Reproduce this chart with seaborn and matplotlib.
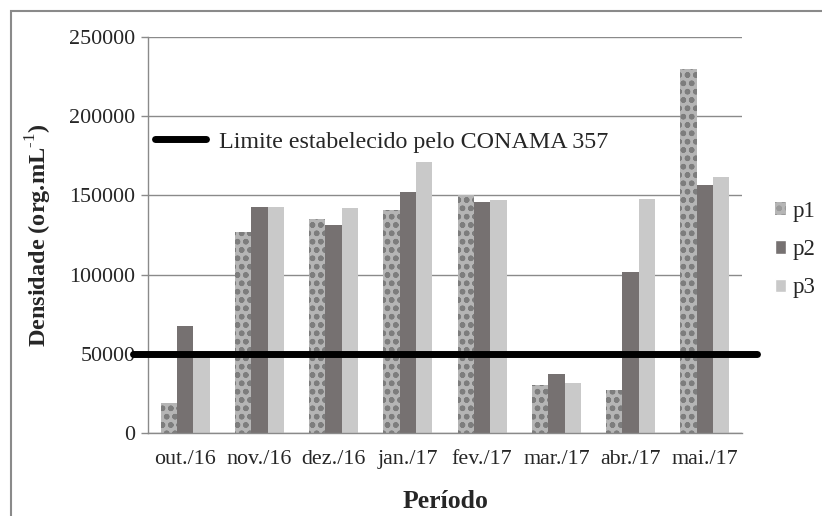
import numpy as np
import pandas as pd
import seaborn as sns
import matplotlib.pyplot as plt
from matplotlib.lines import Line2D
from matplotlib.patches import Rectangle, Patch

periodos = ['out./16', 'nov./16', 'dez./16', 'jan./17', 'fev./17', 'mar./17', 'abr./17', 'mai./17']
p1 = [19000, 127000, 135000, 140500, 150000, 30000, 27000, 230000]
p2 = [67500, 142500, 131000, 152000, 146000, 37000, 101500, 156500]
p3 = [50500, 142500, 142000, 171000, 147000, 31500, 147500, 161500]
pontos = ['p1', 'p2', 'p3']
limite = 50000
limite_label = 'Limite estabelecido pelo CONAMA 357'

df = pd.DataFrame({
    'periodo': periodos * 3,
    'ponto': ['p1'] * 8 + ['p2'] * 8 + ['p3'] * 8,
    'densidade': p1 + p2 + p3,
})

sns.set_style('white')
plt.rcParams['font.family'] = ['Liberation Serif', 'DejaVu Serif']
plt.rcParams['mathtext.fontset'] = 'custom'
plt.rcParams['mathtext.rm'] = 'Liberation Serif'
plt.rcParams['mathtext.bf'] = 'Liberation Serif:bold'
plt.rcParams['hatch.linewidth'] = 1.6

cores = {'p1': '#b5b5b5', 'p2': '#767171', 'p3': '#c9c9c9'}

fig = plt.figure(figsize=(8.22, 5.16), dpi=100)
ax = fig.add_axes([148 / 822, 1 - 433 / 516, 594 / 822, 396 / 516])

sns.barplot(data=df, x='periodo', y='densidade', hue='ponto', order=periodos,
            hue_order=pontos, palette=cores, width=0.66, linewidth=0,
            saturation=1, ax=ax, legend=False)

# textured look for p1
for bar in ax.containers[0]:
    bar.set_hatch('oo')
    bar.set_edgecolor('#7d7d7d')
    bar.set_linewidth(0)

ax.set_ylim(0, 250000)
ax.set_yticks(np.arange(0, 250001, 50000))
ax.yaxis.grid(True, color='#8a8a8a', linewidth=1)
ax.set_axisbelow(True)
for s in ['top', 'right']:
    ax.spines[s].set_visible(False)
for s in ['left', 'bottom']:
    ax.spines[s].set_color('#8a8a8a')
    ax.spines[s].set_linewidth(1)

ax.set_xlim(-0.5, len(periodos) - 0.5)
ax.set_xticks(np.arange(-0.5, len(periodos)), minor=True)
ax.tick_params(axis='x', which='major', length=0, labelsize=15.8, pad=12)
ax.tick_params(axis='x', which='minor', length=6, color='#8a8a8a', width=1)
ax.tick_params(axis='y', length=5, color='#8a8a8a', width=1, labelsize=15.8, pad=4, left=True)

ax.axhline(limite, xmin=-0.025, xmax=1.025, color='black', linewidth=5, clip_on=False, zorder=5)

ax.set_xlabel('Período', fontsize=18.5, fontweight='bold')
ax.xaxis.set_label_coords(0.5, -0.145)
ax.set_ylabel(r'Densidade (org.mL$^{\text{-1}}$)', fontsize=17.5, fontweight='bold')
ax.yaxis.set_label_coords(-0.158, 0.5)

leg1 = ax.legend([Line2D([], [], color='black', linewidth=5)], [limite_label],
                 loc='center left', bbox_to_anchor=(0.012, 0.735), frameon=False,
                 fontsize=17.3, handlelength=2.1, handletextpad=0.55,
                 borderpad=0, borderaxespad=0)
ax.add_artist(leg1)

handles = [Patch(facecolor=cores[p]) for p in pontos]
handles[0].set_hatch('oo')
handles[0].set_edgecolor('#9a9a9a')
handles[0].set_linewidth(0)
ax.legend(handles, pontos, loc='center left', bbox_to_anchor=(1.055, 0.463),
          frameon=False, fontsize=16.5, handlelength=0.5, handleheight=0.5,
          handletextpad=0.3, labelspacing=0.75, borderpad=0, borderaxespad=0)

fig.patches.append(Rectangle((11 / 822, -0.1), 1.2, 1.1 - 11 / 516, transform=fig.transFigure,
                             fill=False, edgecolor='#8a8a8a', linewidth=1.5))

fig.savefig('out.png', dpi=100)
